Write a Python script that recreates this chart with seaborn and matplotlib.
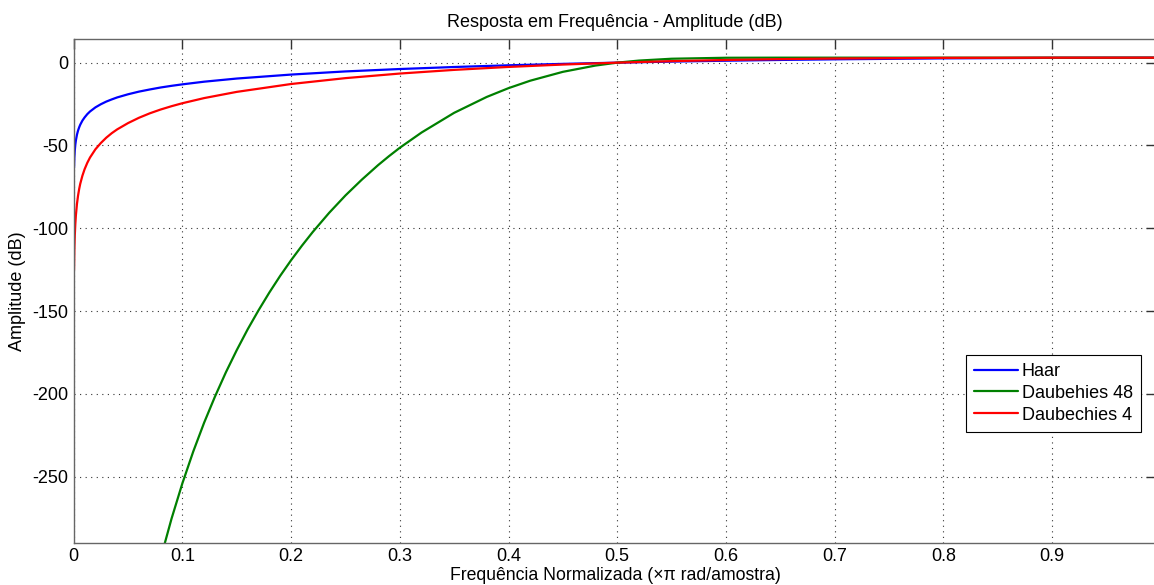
import matplotlib
matplotlib.use("Agg")
import matplotlib.pyplot as plt
import seaborn as sns
import pandas as pd

# ---- data (normalized frequency, amplitude in dB) ----
haar_x = [0.0003, 0.0006, 0.001, 0.0015, 0.002, 0.003, 0.004, 0.005, 0.006, 0.008, 0.01,
          0.0125, 0.015, 0.02, 0.025, 0.03, 0.035, 0.04, 0.05, 0.06, 0.07, 0.08, 0.09,
          0.1, 0.12, 0.15, 0.2, 0.25, 0.3, 0.35, 0.4, 0.45, 0.5, 0.55, 0.6, 0.65,
          0.7, 0.8, 0.9, 1.0]
haar_db = [-63.5, -57.5, -53.1, -49.5, -47.0, -43.5, -41.0, -39.1, -37.5, -35.0, -33.1,
           -31.1, -29.5, -27.0, -25.1, -23.5, -22.2, -21.0, -19.1, -17.5, -16.2, -15.0, -14.0,
           -13.1, -11.5, -9.6, -7.2, -5.3, -3.85, -2.63, -1.6, -0.74, 0.0, 0.63, 1.17, 1.63,
           2.01, 2.58, 2.9, 3.01]

db4_x = haar_x
db4_db = [-125.3, -113.2, -104.4, -97.3, -92.3, -85.3, -80.3, -76.4, -73.2, -68.3, -64.4,
          -60.5, -57.3, -52.3, -48.5, -45.3, -42.6, -40.3, -36.5, -33.3, -30.6, -28.3, -26.3,
          -24.5, -21.4, -17.65, -12.9, -9.35, -6.58, -4.37, -2.59, -1.15, 0.0, 0.91, 1.61, 2.13,
          2.5, 2.9, 3.0, 3.01]

db48_x = [0.08, 0.09, 0.1, 0.11, 0.12, 0.13, 0.14, 0.15, 0.16, 0.17, 0.18, 0.19, 0.2,
          0.21, 0.22, 0.235, 0.25, 0.265, 0.28, 0.29, 0.3, 0.32, 0.35, 0.38, 0.4, 0.42,
          0.45, 0.48, 0.5, 0.52, 0.55, 0.6, 0.65, 0.7, 0.8, 0.9, 1.0]
db48_db = [-299.3, -275.4, -254.0, -234.8, -217.4, -201.6, -187.0, -173.6, -161.1, -149.6, -138.8, -128.7, -119.3,
           -110.5, -102.2, -90.7, -80.2, -70.7, -61.9, -56.5, -51.4, -42.2, -30.3, -20.7, -15.4, -10.9,
           -5.55, -1.76, 0.0, 1.25, 2.36, 2.95, 3.01, 3.01, 3.01, 3.01, 3.01]

labels = ["Haar", "Daubehies 48", "Daubechies 4"]
colors = ["#0000ff", "#008000", "#ff0000"]

title = "Resposta em Frequência - Amplitude (dB)"
xlabel = "Frequência Normalizada (×π rad/amostra)"
ylabel = "Amplitude (dB)"
xticks = [0, 0.1, 0.2, 0.3, 0.4, 0.5, 0.6, 0.7, 0.8, 0.9]
xticklabels = ["0", "0.1", "0.2", "0.3", "0.4", "0.5", "0.6", "0.7", "0.8", "0.9"]
yticks = [-250, -200, -150, -100, -50, 0]
yticklabels = ["-250", "-200", "-150", "-100", "-50", "0"]

df = pd.concat([
    pd.DataFrame({"f": haar_x, "db": haar_db, "filtro": labels[0]}),
    pd.DataFrame({"f": db48_x, "db": db48_db, "filtro": labels[1]}),
    pd.DataFrame({"f": db4_x, "db": db4_db, "filtro": labels[2]}),
], ignore_index=True)

sns.set_style("white")
plt.rcParams["font.family"] = ["Liberation Sans", "DejaVu Sans"]
plt.rcParams["text.color"] = "black"
plt.rcParams["axes.labelcolor"] = "black"
plt.rcParams["xtick.color"] = "black"
plt.rcParams["ytick.color"] = "black"

W, H = 1154, 585
fig = plt.figure(figsize=(W / 100, H / 100), dpi=100)
left, right, top, bottom = 73.7, 1156.5, 39.3, 542.7
ax = fig.add_axes([left / W, (H - bottom) / H, (right - left) / W, (bottom - top) / H])

sns.lineplot(data=df, x="f", y="db", hue="filtro", hue_order=labels,
             palette=dict(zip(labels, colors)), estimator=None, sort=False,
             linewidth=1.6, ax=ax)
for ln in ax.get_lines():
    ln.set_solid_joinstyle("round")

ax.set_xlim(0, (right - left) / 1087.0)
ax.set_ylim(-289.9, 14.1)
ax.set_xticks(xticks)
ax.set_xticklabels(xticklabels)
ax.set_yticks(yticks)
ax.set_yticklabels(yticklabels)

ax.grid(True, linestyle=(0, (1, 4)), color="0.2", linewidth=0.8)
for s in ax.spines.values():
    s.set_color("0.4")
    s.set_linewidth(1.0)
ax.tick_params(direction="in", length=7, width=1.0, color="0.2",
               top=True, right=True, labelsize=13, pad=4, labelcolor="black")

ax.set_title(title, fontsize=13, pad=9, color="black")
ax.set_xlabel(xlabel, fontsize=12.7, labelpad=1)
ax.set_ylabel(ylabel, fontsize=13, labelpad=4)

leg = ax.legend(loc="upper left", bbox_to_anchor=(966 / W, 1 - 355 / H),
                bbox_transform=fig.transFigure, borderaxespad=0, fontsize=13,
                frameon=True, fancybox=False, framealpha=1, edgecolor="black",
                handlelength=2.44, handletextpad=0.2, labelspacing=0.26,
                borderpad=0.45, title=None)
leg.get_frame().set_linewidth(0.8)
for t in leg.get_texts():
    t.set_color("black")

fig.savefig("out.png", dpi=100)
